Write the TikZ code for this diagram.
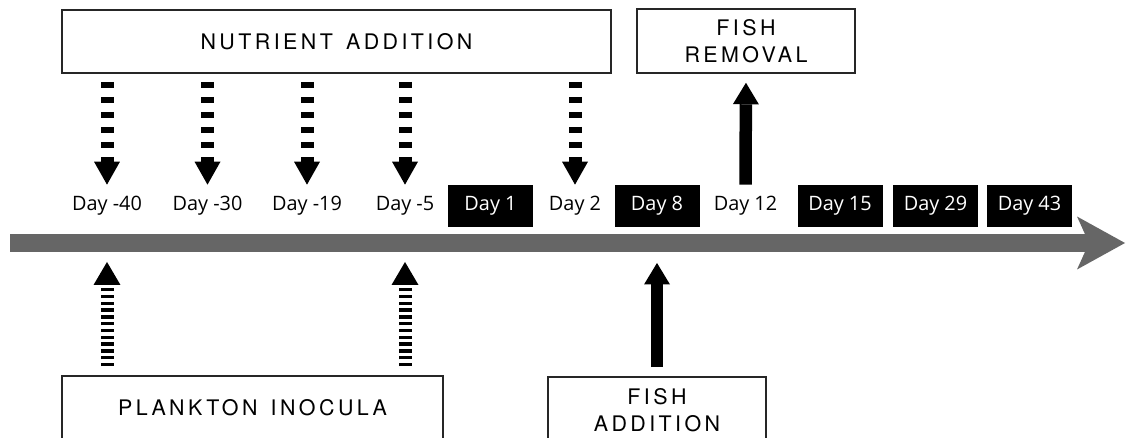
\documentclass[tikz,border=0pt]{standalone}
\usepackage{fontspec}
\setmainfont{Open Sans}
\newfontfamily\capsfont[LetterSpace=16, WordSpace=1.4]{TeX Gyre Heros}
\usetikzlibrary{arrows.meta}

\begin{document}
\begin{tikzpicture}[x=0.02cm, y=-0.02cm,
  bigbox/.style={draw=black!85, line width=0.9pt, align=center, font=\capsfont\fontsize{12.2}{15.3}\selectfont},
  day/.style={minimum height=0.84cm, inner sep=0pt, font=\fontsize{11.3}{13}\selectfont},
  daybox/.style={day, fill=black, text=white, minimum width=1.7cm},
  nutarrow/.style={line width=0.26cm, dash pattern=on 0.12cm off 0.18cm, -{Triangle[length=0.46cm, width=0.52cm, line width=0pt]}},
  plkarrow/.style={line width=0.26cm, dash pattern=on 0.07cm off 0.066cm, -{Triangle[length=0.46cm, width=0.54cm, line width=0pt]}},
  fisharrow/.style={line width=0.25cm, -{Triangle[length=0.43cm, width=0.52cm, line width=0pt]}}]
\clip (0,0) rectangle (1129,438);
\fill[white] (0,0) rectangle (1129,438);

% time line
\coordinate (tstart) at (10,243);
\coordinate (tend) at (1125,243);
\draw[line width=0.36cm, draw=black!60, -{Stealth[length=0.96cm, width=1.06cm, inset=0.24cm, line width=0pt]}] (tstart) -- (tend);

% boxes
\node[bigbox, minimum width=10.98cm, minimum height=1.26cm] (nut) at (336.5,41.5) {NUTRIENT ADDITION};
\node[bigbox, minimum width=4.36cm, minimum height=1.28cm] (frem) at (746,41) {FISH\\REMOVAL};
\node[bigbox, minimum width=7.62cm, minimum height=1.28cm] (plank) at (252.5,408) {PLANKTON INOCULA};
\node[bigbox, minimum width=4.36cm, minimum height=1.32cm] (fadd) at (657,410) {FISH\\ADDITION};

% days
\node[day] (dm40) at (107,206) {Day -40};
\node[day] (dm30) at (207.5,206) {Day -30};
\node[day] (dm19) at (307,206) {Day -19};
\node[day] (dm5) at (405,206) {Day -5};
\node[daybox] (d1) at (490.5,206) {Day 1};
\node[day] (d2) at (575,206) {Day 2};
\node[daybox] (d8) at (657,206) {Day 8};
\node[day] (d12) at (745.5,206) {Day 12};
\node[daybox] (d15) at (840,206) {Day 15};
\node[daybox] (d29) at (935.5,206) {Day 29};
\node[daybox] (d43) at (1029.5,206) {Day 43};

\draw[nutarrow, shorten <=0.16cm](dm40 |- nut.south) -- (dm40.north);
\draw[nutarrow, shorten <=0.16cm](dm30 |- nut.south) -- (dm30.north);
\draw[nutarrow, shorten <=0.16cm](dm19 |- nut.south) -- (dm19.north);
\draw[nutarrow, shorten <=0.16cm](dm5 |- nut.south) -- (dm5.north);
\draw[nutarrow, shorten <=0.16cm](d2 |- nut.south) -- (d2.north);

\draw[plkarrow, shorten <=0.18cm, shorten >=0.38cm](dm40 |- plank.north) -- (dm40 |- tstart);
\draw[plkarrow, shorten <=0.18cm, shorten >=0.38cm](dm5 |- plank.north) -- (dm5 |- tstart);

\draw[fisharrow, shorten <=0.18cm, shorten >=0.4cm](fadd.north) -- (fadd |- tstart);
\draw[fisharrow, shorten >=0.18cm](d12.north) -- (frem.south);

\end{tikzpicture}
\end{document}
